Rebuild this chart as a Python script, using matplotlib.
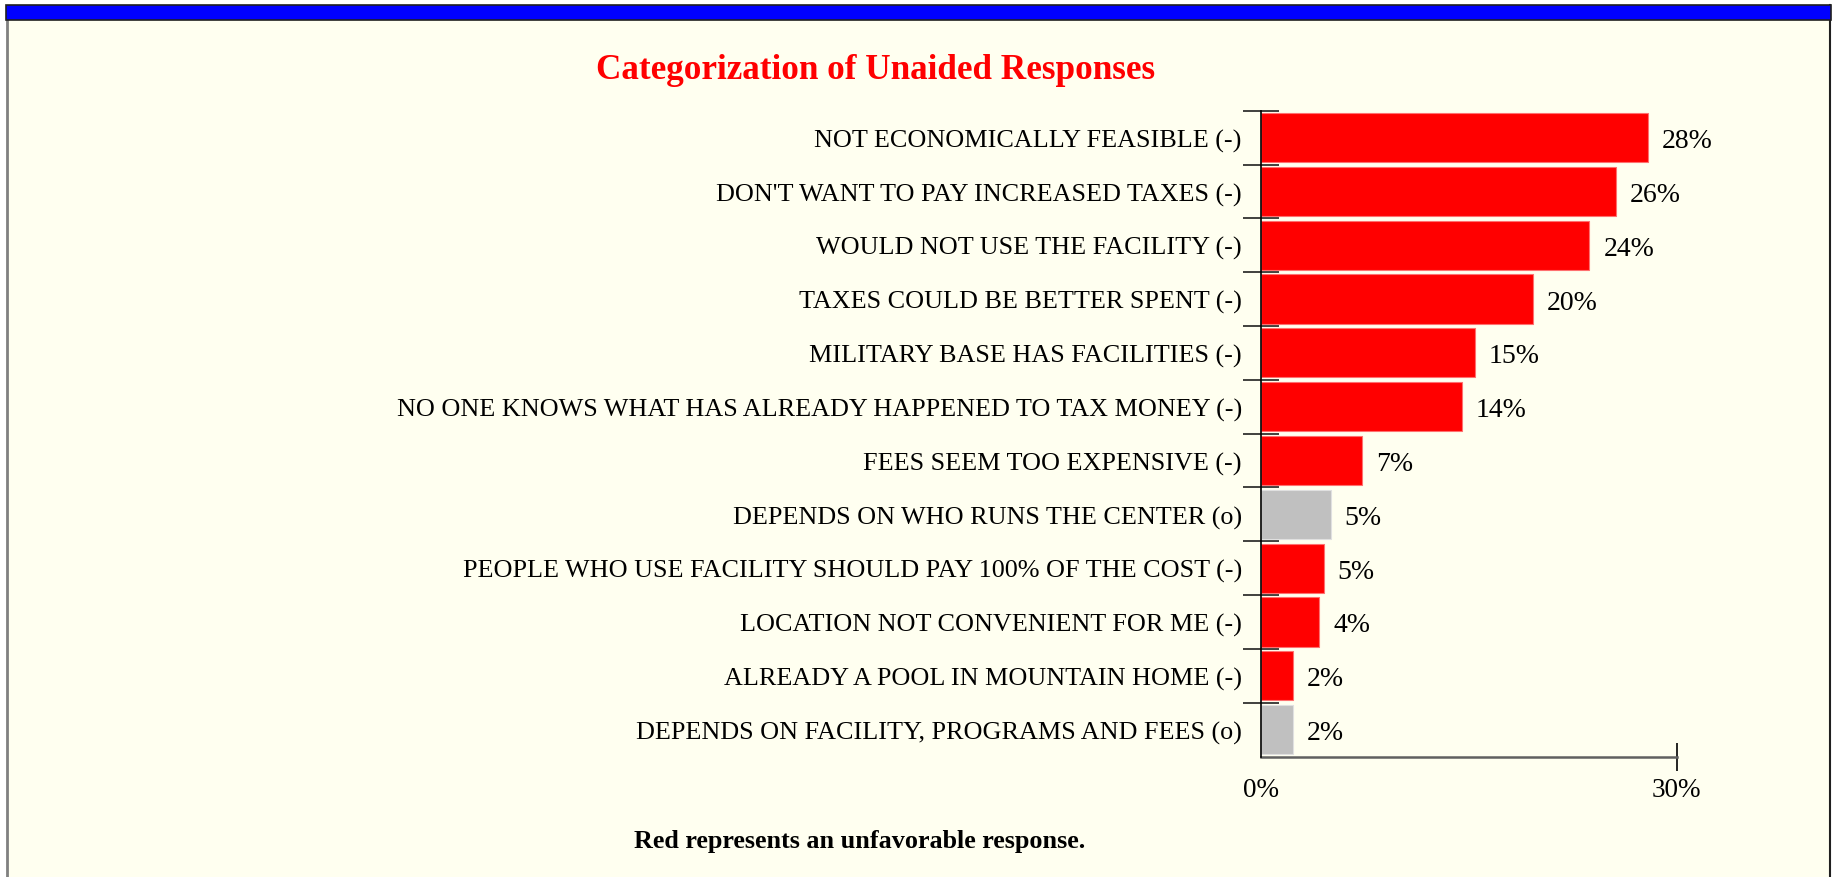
import matplotlib
matplotlib.use("Agg")
import matplotlib.pyplot as plt
from matplotlib.patches import Rectangle
from matplotlib.lines import Line2D

categories = [
    "NOT ECONOMICALLY FEASIBLE (-)",
    "DON'T WANT TO PAY INCREASED TAXES (-)",
    "WOULD NOT USE THE FACILITY (-)",
    "TAXES COULD BE BETTER SPENT (-)",
    "MILITARY BASE HAS FACILITIES (-)",
    "NO ONE KNOWS WHAT HAS ALREADY HAPPENED TO TAX MONEY (-)",
    "FEES SEEM TOO EXPENSIVE (-)",
    "DEPENDS ON WHO RUNS THE CENTER (o)",
    "PEOPLE WHO USE FACILITY SHOULD PAY 100% OF THE COST (-)",
    "LOCATION NOT CONVENIENT FOR ME (-)",
    "ALREADY A POOL IN MOUNTAIN HOME (-)",
    "DEPENDS ON FACILITY, PROGRAMS AND FEES (o)",
]
values = [27.9, 25.6, 23.7, 19.6, 15.4, 14.5, 7.3, 5.0, 4.5, 4.2, 2.3, 2.3]
value_labels = ["28%", "26%", "24%", "20%", "15%", "14%", "7%", "5%", "5%", "4%", "2%", "2%"]
tone = ["neg", "neg", "neg", "neg", "neg", "neg", "neg", "neu", "neg", "neg", "neg", "neu"]
x_ticks = [0, 30]
x_tick_labels = ["0%", "30%"]

title = "Categorization of Unaided Responses"
footnote = "Red represents an unfavorable response."

plt.rcParams["font.family"] = ["Liberation Serif", "DejaVu Serif"]

W, H = 1833, 878
fig = plt.figure(figsize=(W / 100, H / 100), dpi=100, facecolor="white")

# panel background and frame
bg = "#FFFFF0"
fig.patches.append(Rectangle((6 / W, 0), (1831 - 6) / W, (H - 6) / H,
                             transform=fig.transFigure, facecolor=bg,
                             edgecolor="none", zorder=-10))
fig.patches.append(Rectangle((6 / W, 1 - 20.5 / H), (1831 - 6) / W, 14.5 / H,
                             transform=fig.transFigure, facecolor="#0000FF",
                             edgecolor="#202020", linewidth=1.2, zorder=-5))
fig.lines.append(Line2D([7 / W, 7 / W], [0, 1 - 20 / H], transform=fig.transFigure,
                        color="#808080", linewidth=2, zorder=-5))
fig.lines.append(Line2D([1830 / W, 1830 / W], [0, 1 - 6 / H], transform=fig.transFigure,
                        color="#202020", linewidth=1.5, zorder=-5))

ax = fig.add_axes([1261.3 / W, (H - 757.5) / H, (1676.7 - 1261.3) / W, (757.5 - 111.7) / H])
ax.set_zorder(5)
ax.set_facecolor("none")

color_map = {"neg": "#FF0000", "neu": "#C0C0C0"}
edge_map = {"neg": "#FF7070", "neu": "#E0E0E0"}
ypos = list(range(len(categories)))
ax.barh(ypos, values, height=0.915,
        color=[color_map[t] for t in tone],
        edgecolor=[edge_map[t] for t in tone], linewidth=0.8, zorder=2)

ax.set_ylim(len(categories) - 0.5, -0.5)
ax.set_xlim(0, 30)

for side in ("top", "right"):
    ax.spines[side].set_visible(False)
ax.spines["left"].set_color("black")
ax.spines["left"].set_linewidth(1.2)
ax.spines["left"].set_zorder(3)
ax.spines["bottom"].set_color("#606060")
ax.spines["bottom"].set_linewidth(1.8)

ax.set_yticks(ypos)
ax.set_yticklabels(categories, fontsize=18.8)
ax.tick_params(axis="y", which="major", length=0, pad=14)
ax.set_yticks([p - 0.5 for p in ypos], minor=True)
ax.tick_params(axis="y", which="minor", direction="inout", length=26, width=1.2,
               color="#202020")

ax.set_xticks(x_ticks)
ax.set_xticklabels(x_tick_labels, fontsize=19.5)
ax.tick_params(axis="x", which="major", direction="inout", length=20, width=1.2,
               color="black", pad=5)
ax.xaxis.get_major_ticks()[0].tick1line.set_visible(False)

for y, v, lab in zip(ypos, values, value_labels):
    ax.annotate(lab, xy=(v, y), xytext=(10, -6.8), textcoords="offset points",
                va="baseline", ha="left", fontsize=20, color="black")

fig.text(876 / W, (H - 79.3) / H, title, ha="center", va="baseline",
         color="#FF0000", fontsize=25.3, fontweight="bold")
fig.text(860 / W, (H - 842) / H, footnote, ha="center", va="center",
         color="black", fontsize=18.8, fontweight="bold")

fig.savefig("out.png", dpi=100, facecolor="white")
